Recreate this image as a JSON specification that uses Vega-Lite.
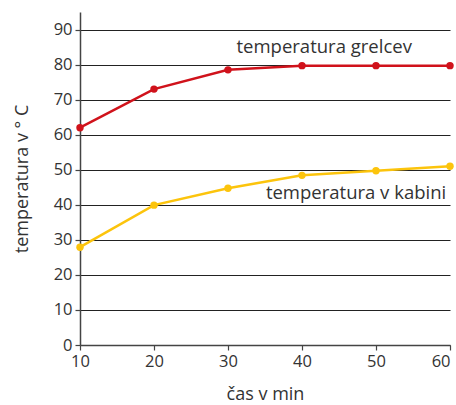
{
  "$schema": "https://vega.github.io/schema/vega-lite/v6.json",
  "width": 370,
  "height": 333,
  "autosize": "none",
  "padding": {"left": 80, "top": 12, "right": 6, "bottom": 60},
  "background": "white",
  "config": {
    "view": {"stroke": null},
    "font": "Open Sans",
    "axis": {
      "labelFont": "Open Sans",
      "titleFont": "Open Sans",
      "labelColor": "#333333",
      "titleColor": "#333333",
      "labelFontSize": 16.5,
      "titleFontSize": 18,
      "titleFontWeight": "normal",
      "domainColor": "#444444",
      "domainWidth": 1.5,
      "tickColor": "#444444",
      "tickWidth": 1.2,
      "tickSize": 5,
      "labelOverlap": false,
      "labelFlush": false
    }
  },
  "datasets": {
    "series": [
      {"cas": 10, "temp": 62, "serija": "grelci"},
      {"cas": 20, "temp": 73, "serija": "grelci"},
      {"cas": 30, "temp": 78.5, "serija": "grelci"},
      {"cas": 40, "temp": 79.7, "serija": "grelci"},
      {"cas": 50, "temp": 79.7, "serija": "grelci"},
      {"cas": 60, "temp": 79.7, "serija": "grelci"},
      {"cas": 10, "temp": 27.9, "serija": "kabina"},
      {"cas": 20, "temp": 39.9, "serija": "kabina"},
      {"cas": 30, "temp": 44.7, "serija": "kabina"},
      {"cas": 40, "temp": 48.4, "serija": "kabina"},
      {"cas": 50, "temp": 49.7, "serija": "kabina"},
      {"cas": 60, "temp": 51.0, "serija": "kabina"}
    ],
    "labels": [
      {"cas": 43.0, "temp": 84.9, "label": "temperatura grelcev"},
      {"cas": 47.3, "temp": 43.3, "label": "temperatura v kabini"}
    ]
  },
  "layer": [
    {
      "data": {"name": "series"},
      "mark": {"type": "line", "strokeWidth": 2.5, "point": {"size": 55, "filled": true, "opacity": 1}},
      "encoding": {
        "x": {
          "field": "cas", "type": "quantitative",
          "scale": {"domain": [10, 60], "nice": false, "zero": false},
          "axis": {
            "values": [10, 20, 30, 40, 50, 60], "grid": false, "title": "čas v min", "labelPadding": 3, "titlePadding": 16,
            "labelAlign": {"condition": {"test": "datum.value == 60", "value": "right"}, "value": "center"}
          }
        },
        "y": {
          "field": "temp", "type": "quantitative",
          "scale": {"domain": [0, 95], "nice": false},
          "axis": {"values": [0, 10, 20, 30, 40, 50, 60, 70, 80, 90], "tickCount": 10, "grid": true, "gridColor": "#222222", "gridWidth": 1.2, "gridOpacity": 1, "title": "temperatura v ° C", "labelPadding": 3, "titlePadding": 22}
        },
        "color": {
          "field": "serija", "type": "nominal",
          "scale": {"domain": ["grelci", "kabina"], "range": ["#d0121b", "#fcc40c"]},
          "legend": null
        }
      }
    },
    {
      "data": {"name": "labels"},
      "mark": {"type": "text", "fontSize": 18.5, "font": "Open Sans", "color": "#333333", "align": "center", "baseline": "middle"},
      "encoding": {
        "x": {"field": "cas", "type": "quantitative"},
        "y": {"field": "temp", "type": "quantitative"},
        "text": {"field": "label"}
      }
    }
  ]
}
